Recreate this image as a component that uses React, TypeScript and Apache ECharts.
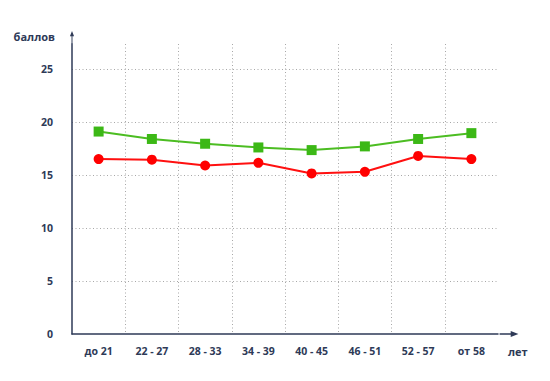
import React, { useEffect, useRef } from "react";
import * as echarts from "echarts";

const categories = ["до 21", "22 - 27", "28 - 33", "34 - 39", "40 - 45", "46 - 51", "52 - 57", "от 58"];
const greenValues = [19.1, 18.4, 17.95, 17.6, 17.35, 17.7, 18.4, 18.95];
const redValues = [16.5, 16.45, 15.9, 16.15, 15.15, 15.3, 16.8, 16.5];
const yTicks = { min: 0, interval: 5, max: 27.36 };

const axisColor = "#2e3a57";
const gridColor = "#a8a8a8";
const font = "'Open Sans', 'DejaVu Sans', sans-serif";

// arrow pointing up with a stem, so the axis line continues to the arrow tip
const arrowPath = "path://M3.5,0 L7,9 L4.3,9 L4.3,22 L2.7,22 L2.7,9 L0,9 Z";

export default function App() {
  const ref = useRef<HTMLDivElement>(null);
  useEffect(() => {
    if (!ref.current) return;
    const chart = echarts.init(ref.current, undefined, { renderer: "svg" });
    chart.setOption({
      animation: false,
      grid: { left: 72, right: 52, top: 44, bottom: 47 },
      xAxis: {
        type: "category",
        data: categories,
        boundaryGap: true,
        name: "\nлет",
        nameLocation: "end",
        nameGap: 10,
        nameTextStyle: {
          color: axisColor,
          fontFamily: font,
          fontWeight: "bold",
          fontSize: 11,
          lineHeight: 34,
          align: "left",
        },
        axisLine: {
          show: true,
          lineStyle: { color: axisColor, width: 1.5 },
          symbol: ["none", arrowPath],
          symbolSize: [6, 22],
          symbolOffset: [0, 11],
        },
        axisTick: { show: false },
        axisLabel: {
          color: axisColor,
          fontFamily: font,
          fontWeight: "bold",
          fontSize: 10.5,
          margin: 11,
        },
        splitLine: {
          show: true,
          showMinLine: false,
          showMaxLine: false,
          lineStyle: { color: gridColor, type: [1, 2.5], width: 1 },
        },
      },
      yAxis: {
        type: "value",
        min: yTicks.min,
        max: yTicks.max,
        interval: yTicks.interval,
        name: "баллов",
        nameLocation: "end",
        nameGap: 2,
        nameTextStyle: {
          color: axisColor,
          fontFamily: font,
          fontWeight: "bold",
          fontSize: 11,
          align: "right",
          padding: [0, 17, 0, 0],
        },
        axisLine: {
          show: true,
          lineStyle: { color: axisColor, width: 1.5 },
          symbol: ["none", arrowPath],
          symbolSize: [6, 13],
          symbolOffset: [0, 6.5],
        },
        axisTick: { show: false },
        axisLabel: {
          color: axisColor,
          fontFamily: font,
          fontWeight: "bold",
          fontSize: 10.5,
          margin: 19,
          showMaxLabel: false,
        },
        splitLine: {
          show: true,
          showMinLine: false,
          showMaxLine: false,
          lineStyle: { color: gridColor, type: [1, 2.5], width: 1 },
        },
      },
      series: [
        {
          type: "line",
          data: greenValues,
          symbol: "rect",
          symbolSize: 10,
          lineStyle: { color: "#4cbd22", width: 2 },
          itemStyle: { color: "#3cb816" },
        },
        {
          type: "line",
          data: redValues,
          symbol: "circle",
          symbolSize: 10,
          lineStyle: { color: "#ff1010", width: 2 },
          itemStyle: { color: "#ff0000" },
        },
      ],
    });
    return () => chart.dispose();
  }, []);
  return <div ref={ref} style={{ width: 550, height: 381, position: "absolute", left: 0, top: 0 }} />;
}
